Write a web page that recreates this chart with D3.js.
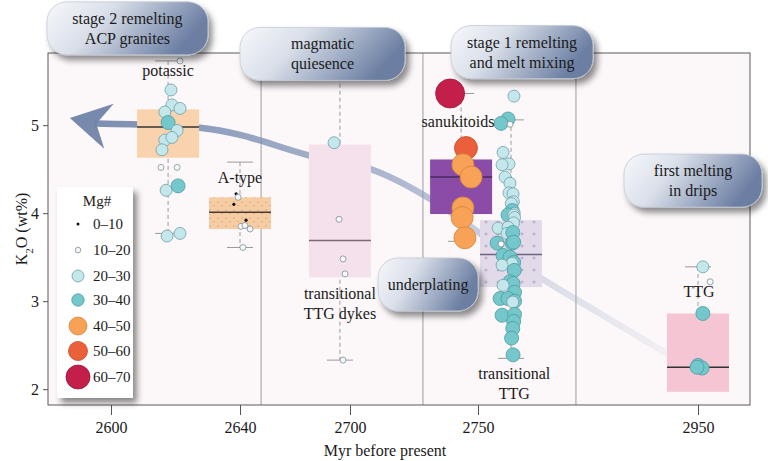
<!DOCTYPE html>
<html>
<head>
<meta charset="utf-8">
<script src="https://cdn.jsdelivr.net/npm/d3@7"></script>
<style>
    body { margin: 0; background: #fff; }
    svg { display: block; }
    svg text { font-family: 'Liberation Serif', 'Times New Roman', 'DejaVu Serif', serif; }
</style>
</head>
<body>
<svg id="chart" width="768" height="461"></svg>
<script>
// ---- data ----
var xTicks = [2600, 2640, 2700, 2750, 2950];
var yTicks = [2, 3, 4, 5];

var mgLabels = ['0–10', '10–20', '20–30', '30–40', '40–50', '50–60', '60–70'];

var groupNames = ['potassic', 'A-type', 'transitional TTG dykes', 'sanukitoids', 'transitional TTG', 'TTG'];
var groupAges = [2617.7, 2640, 2694.5, 2743.4, 2760, 2950];
var boxQ1 = [4.63, 3.82, 3.27, 3.99, 3.16, 1.97];
var boxMedian = [4.98, 4.01, 3.69, 4.41, 3.53, 2.25];
var boxQ3 = [5.18, 4.18, 4.78, 4.61, 3.92, 2.86];
var whiskerLo = [3.77, 3.61, 2.33, 3.68, 2.35, 1.97];
var whiskerHi = [5.73, 4.58, 5.55, 5.36, 5.06, 3.39];

// group dividers (Myr)
var dividers = [2651.5, 2728.5, 2826];

// samples: [age (Myr), K2O (wt%), Mg# class index]
var potassicSamples = [
    [2621.4, 5.73, 1], [2618.6, 5.40, 2], [2618.9, 5.23, 2], [2616.7, 5.15, 2], [2621.4, 5.19, 2],
    [2617.7, 5.03, 3], [2620.5, 4.94, 2], [2616.7, 4.83, 2], [2618.9, 4.86, 2], [2615.8, 4.72, 2],
    [2615.5, 4.52, 1], [2620.5, 4.52, 1], [2617.1, 4.26, 2], [2620.8, 4.31, 3], [2617.4, 3.74, 2],
    [2621.4, 3.77, 2]
];
var aTypeSamples = [
    [2638.8, 4.22, 0], [2639.4, 4.18, 1], [2638.1, 4.10, 0], [2643.3, 3.92, 0], [2640.5, 3.85, 1],
    [2642.7, 3.86, 1], [2645.5, 3.82, 1], [2641.6, 3.61, 1]
];
var dykeSamples = [
    [2691.3, 4.80, 2], [2694.0, 3.93, 1], [2696.2, 3.48, 1], [2697.3, 3.31, 1], [2696.2, 2.33, 1]
];
var sanukitoidSamples = [
    [2739.1, 5.36, 6], [2745.3, 4.74, 5], [2744.1, 4.55, 4], [2747.3, 4.41, 4], [2744.1, 4.06, 4],
    [2743.8, 3.95, 4], [2744.9, 3.72, 4]
];
var transTtgSamples = [
    [2763.0, 5.33, 2], [2759.1, 5.07, 3], [2757.0, 5.02, 3], [2759.7, 5.01, 1], [2757.6, 4.69, 2],
    [2759.4, 4.56, 2], [2757.3, 4.55, 2], [2758.2, 4.41, 2], [2759.7, 4.34, 2], [2759.4, 4.23, 2],
    [2762.1, 4.22, 2], [2762.4, 4.13, 2], [2760.3, 4.11, 2], [2761.2, 4.03, 3], [2763.3, 4.00, 2],
    [2759.1, 3.98, 3], [2762.7, 3.98, 2], [2763.6, 3.95, 2], [2762.7, 3.89, 2], [2756.1, 3.83, 2],
    [2759.1, 3.84, 2], [2758.8, 3.77, 2], [2761.8, 3.78, 3], [2755.8, 3.66, 3], [2761.2, 3.66, 3],
    [2762.7, 3.67, 3], [2757.6, 3.52, 3], [2759.7, 3.50, 3], [2762.7, 3.44, 3], [2761.2, 3.43, 2],
    [2757.3, 3.41, 2], [2763.3, 3.35, 3], [2759.7, 3.22, 3], [2762.1, 3.20, 3], [2757.6, 3.18, 2],
    [2763.6, 3.10, 3], [2756.7, 3.03, 3], [2759.1, 3.03, 3], [2763.6, 3.00, 3], [2761.8, 2.99, 2],
    [2757.3, 2.84, 3], [2763.6, 2.85, 3], [2762.7, 2.77, 3], [2761.8, 2.69, 3], [2760.6, 2.58, 3],
    [2762.1, 2.39, 3], [2757.0, 3.65, 1]
];
var ttgSamples = [
    [2951.4, 3.39, 2], [2953.5, 3.22, 1], [2951.4, 2.86, 3], [2950.0, 2.27, 3], [2951.2, 2.24, 3],
    [2949.0, 2.25, 3]
];

// group labels: [text lines, age, K2O of first baseline]
var groupLabels = [
    [['potassic'], 2617.7, 5.56],
    [['A-type'], 2640, 4.34],
    [['transitional', 'TTG dykes'], 2694.5, 3.03],
    [['sanukitoids'], 2742.2, 4.98],
    [['transitional', 'TTG'], 2763.3, 2.12],
    [['TTG'], 2950.3, 3.05]
];

// interpretation callouts: [lines, age, K2O of centre, box width]
var callouts = [
    [['stage 2 remelting', 'ACP granites'], 2605.1, 6.10, 161],
    [['magmatic', 'quiesence'], 2685, 5.81, 165],
    [['stage 1 remelting', 'and melt mixing'], 2771.2, 5.83, 142],
    [['underplating'], 2730.5, 3.19, 100],
    [['first melting', 'in drips'], 2944.9, 4.37, 138]
];

// trend arrow waypoints [age, K2O], from TTG back to the ACP granites
var arrowPath = [
    [2926.6, 2.35], [2850.4, 2.86], [2789.5, 3.27], [2760, 3.51], [2732, 4.15], [2709, 4.49],
    [2677, 4.66], [2640, 4.89], [2627.6, 4.97], [2596.2, 5.02]
];
var arrowTip = [2590.2, 5.08];

// ---- styles ----
var mgFill = ['#111111', '#f6f8f9', '#c4e7ec', '#74c8cc', '#f7a257', '#e9603a', '#c41f4b'];
var mgStroke = ['#111111', '#7f8f9c', '#6f9ea8', '#4d9a9f', '#d5843e', '#c24c2c', '#9c1638'];
var mgRadius = [1.6, 3, 6, 7, 11, 11.5, 14.5];
var legendRadius = [1.5, 2.8, 6, 6.2, 9, 9.5, 12];
var boxFill = ['#f9d2ae', 'url(#dots)', '#f4e1ec', '#8a4ca6', 'url(#plus)', '#f6c5d3'];
var medianColor = ['#333333', '#4a3a30', '#7b6876', '#4b2a5e', '#6d6480', '#333333'];
var boxWidth = 62;
var capWidth = 26;
var serif = "'Liberation Serif', 'Times New Roman', 'DejaVu Serif', serif";

var plot = { left: 48, right: 750, top: 53, bottom: 405 };

var svg = d3.select('#chart');
var defs = svg.append('defs');

var x = d3.scaleLinear()
    .domain([2585, 2600, 2640, 2700, 2750, 2760, 2950, 2965])
    .range([plot.left, 111, 240, 350, 478, 511, 698, plot.right]);
var y = d3.scaleLinear()
    .domain([1.82, 5.82])
    .range([plot.bottom, plot.top]);

// patterns, gradients, shadows
var dots = defs.append('pattern').attr('id', 'dots')
    .attr('patternUnits', 'userSpaceOnUse').attr('width', 8).attr('height', 8);
dots.append('rect').attr('width', 8).attr('height', 8).attr('fill', '#f6cca2');
dots.append('circle').attr('cx', 2).attr('cy', 2).attr('r', 0.6).attr('fill', '#a88466');
dots.append('circle').attr('cx', 6).attr('cy', 5.5).attr('r', 0.5).attr('fill', '#a88466');

var plus = defs.append('pattern').attr('id', 'plus')
    .attr('patternUnits', 'userSpaceOnUse').attr('width', 12).attr('height', 12);
plus.append('rect').attr('width', 12).attr('height', 12).attr('fill', '#e2dae9');
plus.append('path').attr('d', 'M6,4.5V7.5M4.5,6H7.5').attr('stroke', '#9a88b2').attr('stroke-width', 0.6);

var cg = defs.append('linearGradient').attr('id', 'callout').attr('x1', 0).attr('x2', 1).attr('y1', 0).attr('y2', 0.3);
cg.append('stop').attr('offset', '0%').attr('stop-color', '#f7f8fb');
cg.append('stop').attr('offset', '40%').attr('stop-color', '#d9dfe9');
cg.append('stop').attr('offset', '100%').attr('stop-color', '#6c7fa3');

var ag = defs.append('linearGradient').attr('id', 'arrowGrad')
    .attr('gradientUnits', 'userSpaceOnUse')
    .attr('x1', x(arrowTip[0])).attr('x2', x(arrowPath[0][0])).attr('y1', 0).attr('y2', 0);
ag.append('stop').attr('offset', '0%').attr('stop-color', '#7084aa').attr('stop-opacity', 0.95);
ag.append('stop').attr('offset', '55%').attr('stop-color', '#8597bc').attr('stop-opacity', 0.65);
ag.append('stop').attr('offset', '100%').attr('stop-color', '#b4c0d8').attr('stop-opacity', 0.12);

var shadow = defs.append('filter').attr('id', 'shadow')
    .attr('x', '-20%').attr('y', '-20%').attr('width', '150%').attr('height', '160%');
shadow.append('feDropShadow').attr('dx', 4).attr('dy', 5).attr('stdDeviation', 3)
    .attr('flood-color', '#000').attr('flood-opacity', 0.45);

// plot background
svg.append('rect')
    .attr('x', plot.left).attr('y', plot.top)
    .attr('width', plot.right - plot.left).attr('height', plot.bottom - plot.top)
    .attr('fill', '#fcf7f8');

// group dividers
svg.append('g').selectAll('line')
    .data(dividers)
    .enter().append('line')
    .attr('x1', function (d) { return x(d); })
    .attr('x2', function (d) { return x(d); })
    .attr('y1', plot.top).attr('y2', plot.bottom)
    .attr('stroke', '#9d9d9d').attr('stroke-width', 1);

// trend arrow
var arrowPts = arrowPath.map(function (d) { return [x(d[0]), y(d[1])]; });
svg.append('path')
    .attr('d', d3.line().curve(d3.curveCatmullRom)(arrowPts))
    .attr('fill', 'none')
    .attr('stroke', 'url(#arrowGrad)')
    .attr('stroke-width', 6.5);

(function () {
    var b = arrowPts[arrowPts.length - 1];
    var t = [x(arrowTip[0]), y(arrowTip[1])];
    var dx = t[0] - b[0], dy = t[1] - b[1];
    var len = Math.sqrt(dx * dx + dy * dy);
    var ux = dx / len, uy = dy / len;
    var nx = -uy, ny = ux;
    var L = 40, W = 23, N = 27;
    var c1 = [t[0] - ux * L + nx * W, t[1] - uy * L + ny * W];
    var c2 = [t[0] - ux * L - nx * W, t[1] - uy * L - ny * W];
    var notch = [t[0] - ux * N, t[1] - uy * N];
    svg.append('path')
        .attr('d', 'M' + t + 'L' + c1 + 'L' + notch + 'L' + c2 + 'Z')
        .attr('fill', '#7084aa')
        .attr('fill-opacity', 0.95);
    svg.append('line')
        .attr('x1', b[0]).attr('y1', b[1]).attr('x2', notch[0] + ux * 2).attr('y2', notch[1] + uy * 2)
        .attr('stroke', '#7084aa').attr('stroke-width', 6.5).attr('stroke-opacity', 0.95);
})();

// box plots
var groups = groupNames.map(function (name, i) {
    return {
        name: name, age: groupAges[i], q1: boxQ1[i], med: boxMedian[i], q3: boxQ3[i],
        lo: whiskerLo[i], hi: whiskerHi[i], i: i
    };
});

var boxG = svg.append('g');
var gSel = boxG.selectAll('g').data(groups).enter().append('g');

gSel.append('line')
    .attr('x1', function (d) { return x(d.age); })
    .attr('x2', function (d) { return x(d.age); })
    .attr('y1', function (d) { return y(d.hi); })
    .attr('y2', function (d) { return y(d.lo); })
    .attr('stroke', '#9a9a9a').attr('stroke-width', 1).attr('stroke-dasharray', '4,3');

gSel.append('line')
    .attr('x1', function (d) { return x(d.age) - capWidth / 2; })
    .attr('x2', function (d) { return x(d.age) + capWidth / 2; })
    .attr('y1', function (d) { return y(d.hi); })
    .attr('y2', function (d) { return y(d.hi); })
    .attr('stroke', '#9a9a9a').attr('stroke-width', 1);

gSel.filter(function (d) { return d.lo < d.q1; }).append('line')
    .attr('x1', function (d) { return x(d.age) - capWidth / 2; })
    .attr('x2', function (d) { return x(d.age) + capWidth / 2; })
    .attr('y1', function (d) { return y(d.lo); })
    .attr('y2', function (d) { return y(d.lo); })
    .attr('stroke', '#9a9a9a').attr('stroke-width', 1);

gSel.append('rect')
    .attr('x', function (d) { return x(d.age) - boxWidth / 2; })
    .attr('y', function (d) { return y(d.q3); })
    .attr('width', boxWidth)
    .attr('height', function (d) { return y(d.q1) - y(d.q3); })
    .attr('fill', function (d) { return boxFill[d.i]; });

gSel.append('line')
    .attr('x1', function (d) { return x(d.age) - boxWidth / 2; })
    .attr('x2', function (d) { return x(d.age) + boxWidth / 2; })
    .attr('y1', function (d) { return y(d.med); })
    .attr('y2', function (d) { return y(d.med); })
    .attr('stroke', function (d) { return medianColor[d.i]; })
    .attr('stroke-width', 1.5);

// samples
var samples = [].concat(potassicSamples, aTypeSamples, dykeSamples, sanukitoidSamples, transTtgSamples, ttgSamples);
var ordered = samples.filter(function (d) { return d[2] > 1; })
    .concat(samples.filter(function (d) { return d[2] <= 1; }));

svg.append('g').selectAll('circle')
    .data(ordered)
    .enter().append('circle')
    .attr('cx', function (d) { return x(d[0]); })
    .attr('cy', function (d) { return y(d[1]); })
    .attr('r', function (d) { return mgRadius[d[2]]; })
    .attr('fill', function (d) { return mgFill[d[2]]; })
    .attr('stroke', function (d) { return mgStroke[d[2]]; })
    .attr('stroke-width', function (d) { return d[2] === 0 ? 0 : 0.8; });

// group labels
var labelG = svg.append('g')
    .attr('font-family', serif)
    .attr('font-size', 16).attr('fill', '#1a1a1a').attr('text-anchor', 'middle');
groupLabels.forEach(function (l) {
    var t = labelG.append('text')
        .attr('x', x(l[1]))
        .attr('y', y(l[2]));
    l[0].forEach(function (line, k) {
        t.append('tspan').attr('x', x(l[1])).attr('dy', k === 0 ? 0 : 20).text(line);
    });
});

// frame
svg.append('rect')
    .attr('x', plot.left).attr('y', plot.top)
    .attr('width', plot.right - plot.left).attr('height', plot.bottom - plot.top)
    .attr('fill', 'none').attr('stroke', '#5a5a5a').attr('stroke-width', 1);

// axes
var yAxisG = svg.append('g')
    .attr('transform', 'translate(' + plot.left + ',0)')
    .call(d3.axisLeft(y).tickValues(yTicks).tickSize(5).tickPadding(4).tickFormat(d3.format('d')));
var xAxisG = svg.append('g')
    .attr('transform', 'translate(0,' + plot.bottom + ')')
    .call(d3.axisBottom(x).tickValues(xTicks).tickSize(10).tickPadding(7).tickFormat(d3.format('d')));
[yAxisG, xAxisG].forEach(function (g) {
    g.attr('font-family', serif).attr('font-size', 16);
    g.select('.domain').remove();
    g.selectAll('line').attr('stroke', '#555');
    g.selectAll('text').attr('fill', '#1a1a1a');
});

svg.append('text')
    .attr('x', 385).attr('y', 456)
    .attr('font-family', serif)
    .attr('text-anchor', 'middle').attr('font-size', 16).attr('fill', '#1a1a1a')
    .text('Myr before present');

var yTitle = svg.append('text')
    .attr('transform', 'translate(27,' + (plot.top + plot.bottom) / 2 + ') rotate(-90)')
    .attr('font-family', serif)
    .attr('text-anchor', 'middle').attr('font-size', 16).attr('fill', '#1a1a1a');
yTitle.append('tspan').text('K');
yTitle.append('tspan').attr('baseline-shift', 'sub').attr('font-size', 11).text('2');
yTitle.append('tspan').text('O (wt%)');

// legend
var legend = svg.append('g').attr('transform', 'translate(57,187)')
    .attr('font-family', serif);
legend.append('rect')
    .attr('width', 76).attr('height', 211)
    .attr('fill', '#ffffff').attr('filter', 'url(#shadow)');
legend.append('text')
    .attr('x', 40).attr('y', 19)
    .attr('text-anchor', 'middle').attr('font-size', 15).attr('fill', '#1a1a1a')
    .text('Mg#');
var legendRows = [37, 63, 89, 113, 139, 164, 190];
var lr = legend.selectAll('g.row')
    .data(mgLabels)
    .enter().append('g')
    .attr('class', 'row')
    .attr('transform', function (d, i) { return 'translate(0,' + legendRows[i] + ')'; });
lr.append('circle')
    .attr('cx', 21)
    .attr('r', function (d, i) { return legendRadius[i]; })
    .attr('fill', function (d, i) { return mgFill[i]; })
    .attr('stroke', function (d, i) { return mgStroke[i]; })
    .attr('stroke-width', function (d, i) { return i === 0 ? 0 : 0.8; });
lr.append('text')
    .attr('x', 36).attr('dy', '0.35em')
    .attr('font-size', 15).attr('fill', '#1a1a1a')
    .text(function (d) { return d; });

// callouts
var calloutH = 53;
var cG = svg.append('g').attr('font-family', serif);
callouts.forEach(function (c) {
    var cx = x(c[1]), cy = y(c[2]), w = c[3];
    var g = cG.append('g');
    g.append('rect')
        .attr('x', cx - w / 2).attr('y', cy - calloutH / 2)
        .attr('width', w).attr('height', calloutH)
        .attr('rx', 20).attr('ry', 20)
        .attr('fill', 'url(#callout)')
        .attr('stroke', '#c3c9d6').attr('stroke-width', 0.8)
        .attr('filter', 'url(#shadow)');
    var n = c[0].length;
    c[0].forEach(function (line, k) {
        g.append('text')
            .attr('x', cx)
            .attr('y', cy + (k - (n - 1) / 2) * 20)
            .attr('dy', '0.35em')
            .attr('text-anchor', 'middle').attr('font-size', 16).attr('fill', '#1a1a1a')
            .text(line);
    });
});
</script>
</body>
</html>
